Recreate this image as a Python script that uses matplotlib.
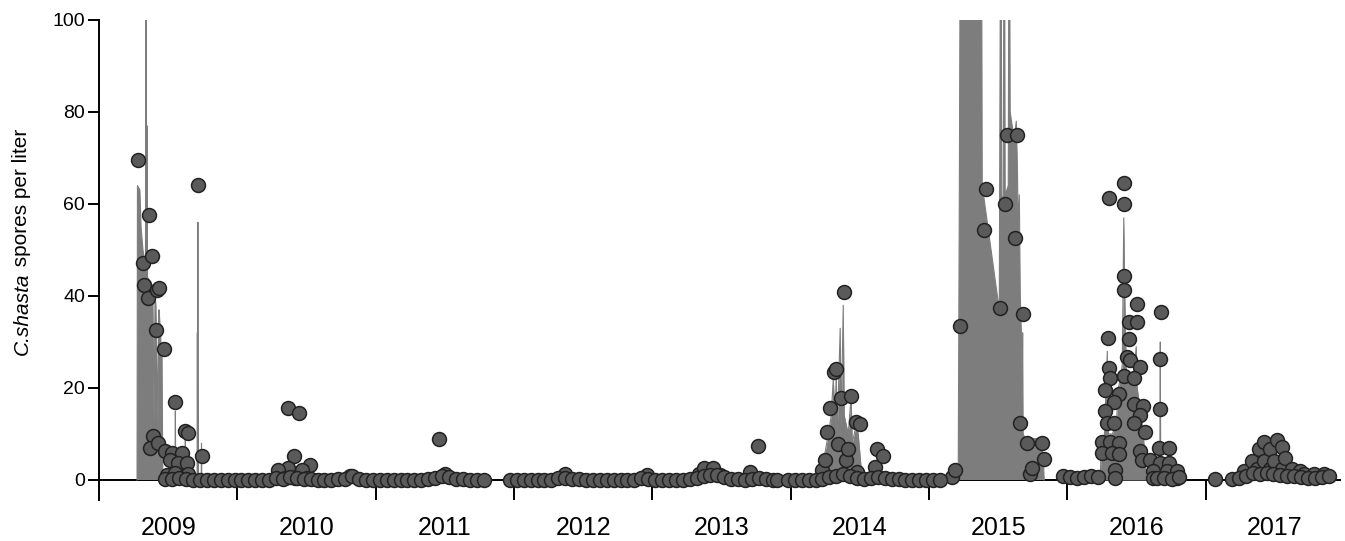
import numpy as np
import pandas as pd
import matplotlib.pyplot as plt

plt.rcParams['font.family'] = ['Liberation Sans', 'DejaVu Sans']

years = [2009, 2010, 2011, 2012, 2013, 2014, 2015, 2016, 2017]

########################################################################################
# Sample points (decimal year, spores per liter)
dates_2009 = [2009.284, 2009.316, 2009.328, 2009.356, 2009.362, 2009.381, 2009.417, 2009.434, 2009.410,
              2009.470, 2009.552, 2009.624, 2009.646, 2009.716, 2009.743, 2009.393, 2009.369, 2009.429,
              2009.477, 2009.528, 2009.598, 2009.513, 2009.573, 2009.634, 2009.490, 2009.550, 2009.640]
spores_2009 = [69.5, 47.2, 42.3, 39.5, 57.6, 48.6, 41.3, 41.8, 32.5,
               28.5, 17.0, 10.6, 10.3, 64.2, 5.2, 9.5, 7.0, 8.0,
               6.3, 5.8, 5.8, 4.3, 3.6, 3.7, 1.0, 1.5, 1.4]

dates_2010 = [2010.369, 2010.448, 2010.412, 2010.526, 2010.369, 2010.297, 2010.466, 2010.345, 2010.417,
              2010.502, 2010.815]
spores_2010 = [15.6, 14.5, 5.2, 3.3, 2.5, 2.2, 2.2, 0.5, 0.5, 0.5, 0.8]

dates_2011 = [2011.459, 2011.502]
spores_2011 = [8.9, 1.3]

dates_2012 = [2012.370, 2012.960]
spores_2012 = [1.3, 1.1]

dates_2013 = [2013.334, 2013.370, 2013.442, 2013.490, 2013.707, 2013.767]
spores_2013 = [1.4, 2.5, 2.5, 1.1, 1.8, 7.4]

dates_2014 = [2014.226, 2014.250, 2014.262, 2014.286, 2014.310, 2014.329, 2014.339, 2014.363, 2014.382,
              2014.401, 2014.418, 2014.438, 2014.474, 2014.479, 2014.503, 2014.611, 2014.624, 2014.671]
spores_2014 = [2.2, 4.3, 10.5, 15.6, 23.5, 24.1, 7.8, 17.9, 40.9,
               4.3, 6.7, 18.3, 12.5, 1.8, 12.2, 2.9, 6.7, 5.3]

dates_2015 = [2015.166, 2015.190, 2015.221, 2015.394, 2015.414, 2015.510, 2015.551, 2015.564, 2015.624,
              2015.636, 2015.660, 2015.679, 2015.708, 2015.732, 2015.744, 2015.817, 2015.828]
spores_2015 = [0.7, 2.2, 33.5, 54.3, 63.2, 37.3, 60.1, 75.0, 52.5,
               75.0, 12.3, 36.1, 8.1, 1.4, 2.5, 8.1, 4.5]

dates_2016 = [2016.303, 2016.412, 2016.412, 2016.412, 2016.412, 2016.504, 2016.674, 2016.443, 2016.504,
              2016.294, 2016.443, 2016.672, 2016.431, 2016.455, 2016.522, 2016.298, 2016.310, 2016.407,
              2016.479, 2016.274, 2016.371, 2016.334, 2016.479, 2016.547, 2016.672, 2016.274, 2016.527,
              2016.287, 2016.334, 2016.479, 2016.564, 2016.251, 2016.310, 2016.371, 2016.251, 2016.323,
              2016.371, 2016.527, 2016.660, 2016.732, 2016.540, 2016.600, 2016.672, 2016.732, 2016.347,
              2016.620, 2016.722, 2016.793, 2016.347, 2016.620, 2016.793]
spores_2016 = [61.3, 64.6, 60.0, 44.3, 41.3, 38.2, 36.6, 34.4, 34.4,
               30.8, 30.6, 26.4, 26.8, 26.0, 24.5, 24.3, 22.1, 22.5,
               22.1, 19.6, 18.7, 17.0, 16.5, 16.1, 15.4, 14.9, 14.1,
               12.3, 12.3, 12.3, 10.5, 8.3, 8.3, 8.1, 5.8, 5.8,
               5.6, 6.2, 6.9, 6.9, 4.3, 4.3, 3.6, 3.6, 2.2,
               2.0, 2.0, 2.0, 0.5, 0.5, 0.5]

dates_2017 = [2017.070, 2017.275, 2017.335, 2017.371, 2017.383, 2017.419, 2017.419, 2017.467, 2017.467,
              2017.491, 2017.516, 2017.552, 2017.552, 2017.576, 2017.624, 2017.684, 2017.708, 2017.781,
              2017.853]
spores_2017 = [0.2, 2.0, 4.1, 2.4, 6.7, 8.3, 4.1, 6.7, 2.4,
               4.1, 8.7, 7.2, 2.4, 4.7, 2.4, 2.0, 1.2, 1.2,
               1.2]

# Low-level samples between the peaks
low_dates_a = [2009.48, 2009.53, 2009.58, 2009.63, 2009.68, 2009.73, 2009.78, 2009.83, 2009.88, 2009.93, 2009.98,
               2010.03, 2010.08, 2010.13, 2010.18, 2010.23, 2010.28, 2010.33, 2010.38, 2010.43, 2010.48,
               2010.53, 2010.58, 2010.63, 2010.68, 2010.73, 2010.78, 2010.83, 2010.88, 2010.93, 2010.98,
               2011.03, 2011.08, 2011.13, 2011.18, 2011.23, 2011.28, 2011.33, 2011.38, 2011.43, 2011.48,
               2011.53, 2011.58, 2011.63, 2011.68, 2011.73, 2011.78]
low_spores_a = [0.3, 0.2, 0.4, 0.2, 0.0, 0.0, 0.0, 0.0, 0.0, 0.0, 0.0,
                0.0, 0.0, 0.0, 0.0, 0.0, 0.4, 0.3, 0.6, 0.5, 0.2,
                0.3, 0.0, 0.0, 0.0, 0.3, 0.2, 0.8, 0.3, 0.0, 0.0,
                0.0, 0.0, 0.0, 0.0, 0.0, 0.0, 0.0, 0.2, 0.5, 0.8,
                0.6, 0.3, 0.2, 0.0, 0.0, 0.0]

low_dates_b = [2011.97, 2012.02, 2012.07, 2012.12, 2012.17, 2012.22, 2012.27, 2012.32, 2012.37, 2012.42,
               2012.47, 2012.52, 2012.57, 2012.62, 2012.67, 2012.72, 2012.77, 2012.82, 2012.87, 2012.92,
               2012.97, 2013.02, 2013.07, 2013.12, 2013.17, 2013.22, 2013.27, 2013.32, 2013.37, 2013.42,
               2013.47, 2013.52, 2013.57, 2013.62, 2013.67, 2013.72, 2013.77, 2013.82, 2013.87, 2013.90]
low_spores_b = [0.0, 0.0, 0.0, 0.0, 0.0, 0.0, 0.0, 0.4, 0.5, 0.3,
                0.2, 0.0, 0.0, 0.0, 0.0, 0.0, 0.0, 0.0, 0.0, 0.5,
                0.3, 0.0, 0.0, 0.0, 0.0, 0.0, 0.2, 0.4, 0.8, 1.1,
                1.0, 0.6, 0.3, 0.2, 0.0, 0.3, 0.5, 0.2, 0.0, 0.0]

low_dates_c = [2013.98, 2014.03, 2014.08, 2014.13, 2014.18, 2014.23, 2014.28, 2014.33, 2014.38, 2014.43,
               2014.48, 2014.53, 2014.58, 2014.63, 2014.68, 2014.73, 2014.78, 2014.83, 2014.88, 2014.93,
               2014.98, 2015.03, 2015.08]
low_spores_c = [0.0, 0.0, 0.0, 0.0, 0.0, 0.3, 0.6, 0.9, 1.2, 0.8,
                0.5, 0.3, 0.4, 0.6, 0.5, 0.3, 0.2, 0.0, 0.0, 0.0,
                0.0, 0.0, 0.0]

low_dates_d = [2015.97, 2016.02, 2016.07, 2016.12, 2016.17, 2016.22, 2016.65, 2016.70, 2016.76, 2016.81]
low_spores_d = [0.8, 0.6, 0.5, 0.6, 0.9, 0.7, 0.5, 0.4, 0.3, 0.6]

low_dates_e = [2017.19, 2017.24, 2017.29, 2017.34, 2017.39, 2017.44, 2017.49, 2017.54, 2017.59, 2017.64,
               2017.69, 2017.74, 2017.79, 2017.84, 2017.89]
low_spores_e = [0.2, 0.5, 0.9, 1.5, 1.3, 1.6, 1.4, 1.1, 0.9, 0.8, 0.6, 0.5, 0.4, 0.6, 0.8]

########################################################################################
# Daily series drawn as shaded area (values above 100 run off the top)
area_dates_2009 = [2009.275, 2009.278, 2009.296, 2009.304, 2009.318, 2009.336, 2009.340, 2009.343, 2009.347,
                   2009.351, 2009.376, 2009.390, 2009.398, 2009.405, 2009.412, 2009.427, 2009.431, 2009.434,
                   2009.441, 2009.448, 2009.456, 2009.460, 2009.463, 2009.549, 2009.552, 2009.555, 2009.622,
                   2009.624, 2009.626, 2009.709, 2009.711, 2009.713, 2009.715, 2009.717, 2009.739, 2009.741,
                   2009.743]
area_spores_2009 = [0, 64, 63, 55, 50, 46, 120, 45, 77,
                    44, 43, 41, 12, 40, 38, 12, 36, 37,
                    34, 30, 28, 5, 0, 0, 15, 0, 0,
                    9, 0, 0, 32, 0, 56, 0, 0, 8,
                    0]

area_dates_2014 = [2014.228, 2014.243, 2014.272, 2014.293, 2014.308, 2014.322, 2014.329, 2014.336, 2014.358,
                   2014.365, 2014.380, 2014.387, 2014.416, 2014.437, 2014.445, 2014.474, 2014.488, 2014.517]
area_spores_2014 = [0, 5, 10, 14, 22, 12, 24, 10, 33,
                    12, 38, 14, 10, 18, 8, 12, 10, 0]

area_dates_2015 = [2015.211, 2015.219, 2015.229, 2015.378, 2015.385, 2015.508, 2015.520, 2015.526, 2015.537,
                   2015.544, 2015.551, 2015.573, 2015.580, 2015.587, 2015.616, 2015.631, 2015.638, 2015.645,
                   2015.653, 2015.660, 2015.667, 2015.674, 2015.677, 2015.681, 2015.696, 2015.804, 2015.826,
                   2015.833]
area_spores_2015 = [0, 60, 150, 150, 64, 37, 150, 60, 62,
                    150, 62, 64, 150, 80, 74, 78, 70, 55,
                    62, 40, 33, 20, 32, 10, 9, 9, 5,
                    0]

area_dates_2016 = [2016.238, 2016.245, 2016.267, 2016.289, 2016.296, 2016.325, 2016.354, 2016.369, 2016.383,
                   2016.397, 2016.408, 2016.415, 2016.426, 2016.455, 2016.476, 2016.498, 2016.505, 2016.527,
                   2016.549, 2016.570, 2016.668, 2016.672, 2016.675]
area_spores_2016 = [0, 8, 9, 28, 10, 10, 12, 20, 22,
                    25, 57, 40, 24, 23, 22, 29, 20, 15,
                    10, 0, 0, 30, 0]

########################################################################################
fig = plt.figure(figsize=(13.45, 5.41), dpi=100)
ax = fig.add_axes([99 / 1345, 41 / 541, 1245 / 1345, 480 / 541])

area_color = '#7d7d7d'
for x, y in [(area_dates_2009, area_spores_2009), (area_dates_2014, area_spores_2014),
             (area_dates_2015, area_spores_2015), (area_dates_2016, area_spores_2016)]:
    ax.fill_between(x, y, 0, color=area_color, lw=0, zorder=1)
    ax.plot(x, y, color=area_color, lw=0.8, zorder=1)

# zero line
ax.plot([2009, 2017.97], [0, 0], color='black', lw=1.4, zorder=0.5)

all_dates = (dates_2009 + dates_2010 + dates_2011 + dates_2012 + dates_2013 + dates_2014 + dates_2015
             + dates_2016 + dates_2017 + low_dates_a + low_dates_b + low_dates_c + low_dates_d + low_dates_e)
all_spores = (spores_2009 + spores_2010 + spores_2011 + spores_2012 + spores_2013 + spores_2014 + spores_2015
              + spores_2016 + spores_2017 + low_spores_a + low_spores_b + low_spores_c + low_spores_d
              + low_spores_e)
ax.plot(all_dates, all_spores, 'o', ms=10, mfc='#5a5a5a', mec='#222222', mew=1.1, zorder=3)

ax.set_xlim(2009, 2018)
ax.set_ylim(-4.35, 100)

ax.set_yticks([0, 20, 40, 60, 80, 100])
ax.tick_params(axis='y', direction='out', length=8, width=1.4, labelsize=14, pad=2)

ax.set_xticks(range(2010, 2018))
ax.set_xticks([y + 0.5 for y in years], minor=True)
ax.set_xticklabels([str(y) for y in years], minor=True)
ax.tick_params(axis='x', which='major', direction='in', length=14.4, width=1.4, labelbottom=False)
ax.tick_params(axis='x', which='minor', length=0, labelsize=18, pad=11.5)

for side in ['top', 'right', 'bottom']:
    ax.spines[side].set_visible(False)
ax.spines['left'].set_linewidth(1.4)

# y label: italic species name followed by plain text
lab_x = 22 / 1345
lab1 = fig.text(lab_x, (541 - 355) / 541, 'C.shasta', style='italic', fontsize=15,
                rotation=90, ha='center', va='bottom')
fig.canvas.draw()
top = lab1.get_window_extent().y1 / fig.bbox.height
fig.text(lab_x, top, ' spores per liter', fontsize=15, rotation=90, ha='center', va='bottom')

plt.savefig('out.png', dpi=100)
